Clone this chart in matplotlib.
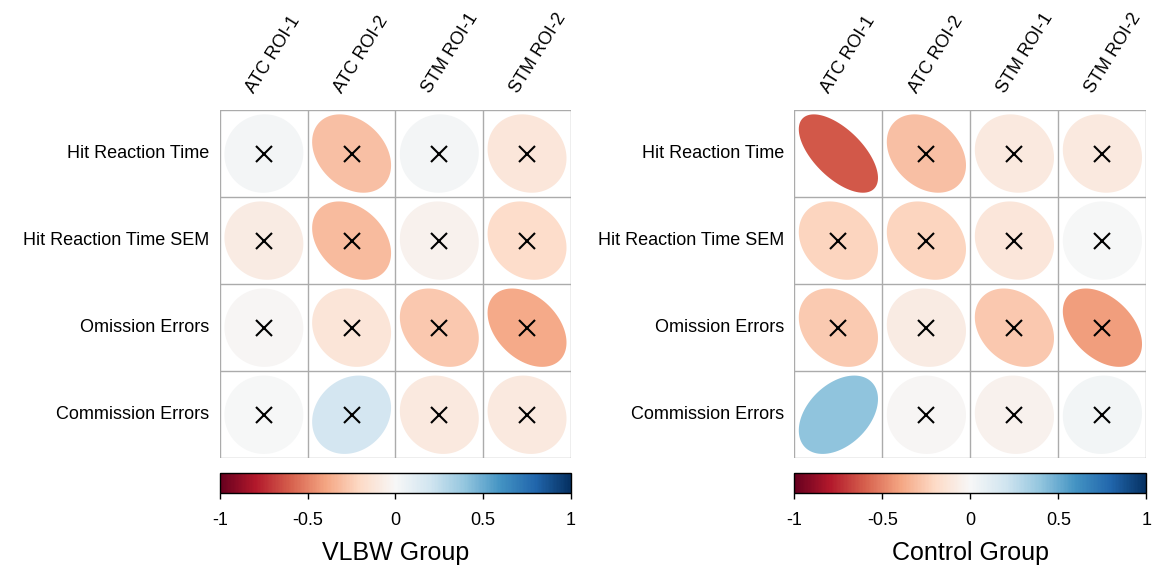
import matplotlib.pyplot as plt
import numpy as np
from matplotlib.patches import Polygon
from matplotlib.colors import Normalize
from matplotlib.cm import ScalarMappable

plt.rcParams['font.family'] = ['Liberation Sans', 'DejaVu Sans']

rows = ["Hit Reaction Time", "Hit Reaction Time SEM", "Omission Errors", "Commission Errors"]
cols = ["ATC ROI-1", "ATC ROI-2", "STM ROI-1", "STM ROI-2"]

# correlation estimates
vlbw_r = [[0.02, -0.30, 0.02, -0.12],
          [-0.08, -0.32, -0.04, -0.18],
          [-0.01, -0.13, -0.27, -0.38],
          [0.00, 0.18, -0.10, -0.10]]
control_r = [[-0.62, -0.30, -0.10, -0.10],
             [-0.22, -0.22, -0.12, 0.00],
             [-0.26, -0.08, -0.27, -0.42],
             [0.40, -0.01, -0.04, 0.03]]
# True = not significant (crossed out)
vlbw_ns = [[True] * 4 for _ in range(4)]
control_ns = [[False, True, True, True],
              [True, True, True, True],
              [True, True, True, True],
              [False, True, True, True]]

cmap = plt.get_cmap("RdBu")
norm = Normalize(-1, 1)


def ellipse_pts(r, cx, cy, scale=0.9):
    t = np.linspace(0, 2 * np.pi, 100)
    a = np.arccos(r) / 2
    x = np.cos(t + a) / 2 * scale
    y = np.cos(t - a) / 2 * scale
    return np.column_stack([cx + x, cy + y])


def corr_panel(ax, cax, r, ns, title):
    n = len(rows)
    for i in range(n):
        for j in range(len(cols)):
            cy = n - 1 - i
            val = r[i][j]
            ax.add_patch(Polygon(ellipse_pts(val, j, cy), closed=True,
                                 facecolor=cmap(norm(val)), edgecolor="none"))
            if ns[i][j]:
                ax.plot(j, cy, marker="x", color="black", markersize=12, mew=1.5)
    for k in range(n + 1):
        ax.axhline(k - 0.5, color="#ababab", lw=1)
        ax.axvline(k - 0.5, color="#ababab", lw=1)
    ax.set_xlim(-0.5, len(cols) - 0.5)
    ax.set_ylim(-0.5, n - 0.5)
    ax.set_xticks([])
    ax.set_yticks([])
    for s in ax.spines.values():
        s.set_visible(False)
    for i, name in enumerate(rows):
        ax.text(-0.62, n - 1 - i, name, ha="right", va="center", fontsize=13)
    for j, name in enumerate(cols):
        ax.text(j - 0.07, n - 0.34, name, ha="left", va="bottom", fontsize=13,
                rotation=58, rotation_mode="anchor")

    cb = plt.colorbar(ScalarMappable(norm=norm, cmap=cmap), cax=cax,
                      orientation="horizontal", ticks=[-1, -0.5, 0, 0.5, 1])
    cb.ax.set_xticklabels(["-1", "-0.5", "0", "0.5", "1"], fontsize=13)
    cb.ax.tick_params(length=4, width=1, pad=10)
    cb.outline.set_linewidth(1)
    cb.set_label(title, fontsize=18, labelpad=8)


fig = plt.figure(figsize=(11.58, 5.70), dpi=100)
ax1 = fig.add_axes([0.190, 0.196, 0.303, 0.611])
cax1 = fig.add_axes([0.190, 0.135, 0.303, 0.036])
ax2 = fig.add_axes([0.686, 0.196, 0.304, 0.611])
cax2 = fig.add_axes([0.686, 0.135, 0.304, 0.036])

corr_panel(ax1, cax1, vlbw_r, vlbw_ns, "VLBW Group")
corr_panel(ax2, cax2, control_r, control_ns, "Control Group")

fig.savefig("out.png", dpi=100)
